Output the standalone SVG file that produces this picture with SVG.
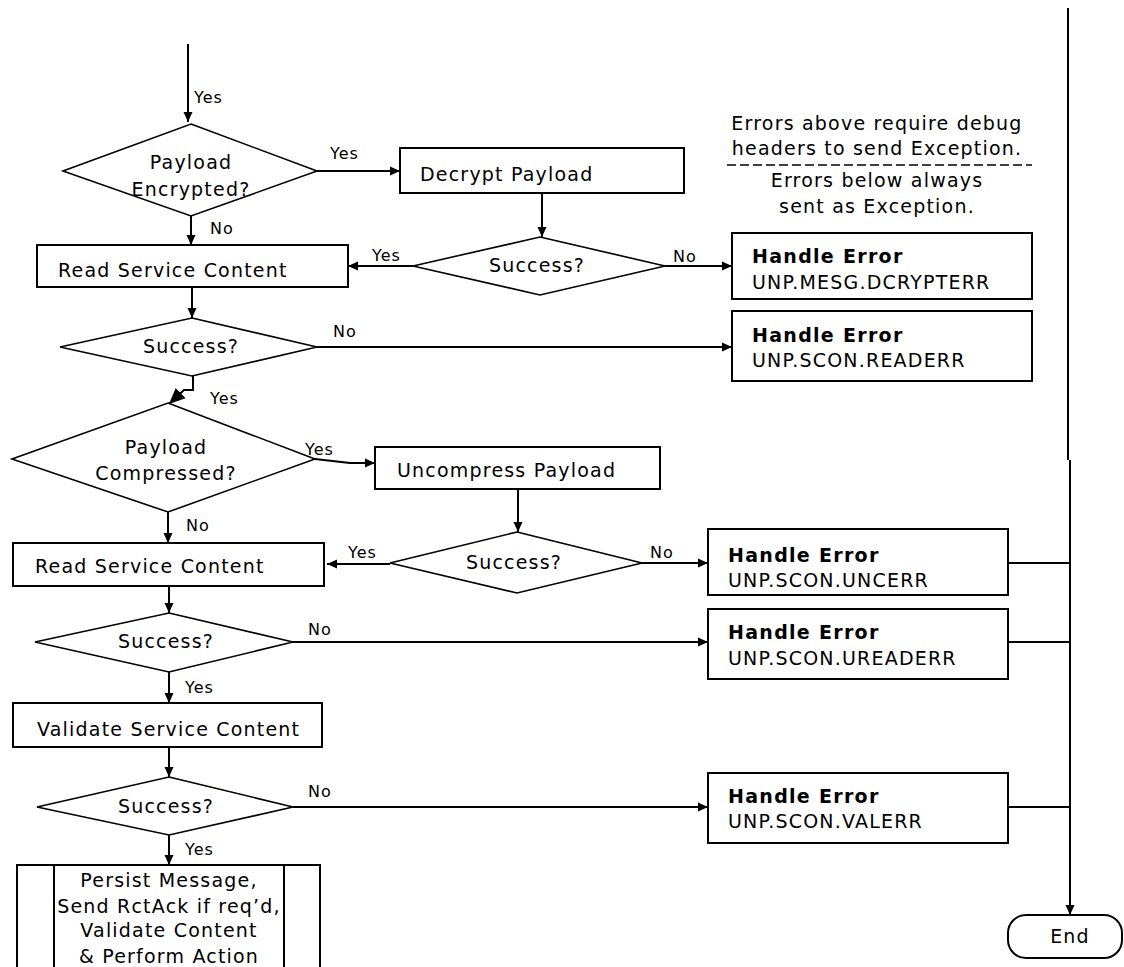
<svg xmlns="http://www.w3.org/2000/svg" width="1124" height="967" viewBox="0 0 1124 967">
<style>
.box{fill:#fff;stroke:#000;stroke-width:2}
.dia{fill:#fff;stroke:#000;stroke-width:1.6}
.t{font-family:"DejaVu Sans",Verdana,sans-serif;font-size:19px;letter-spacing:1.2px;fill:#000}
.c{text-anchor:middle}
.b{font-weight:bold;letter-spacing:1.3px}
.lbl{font-family:"DejaVu Sans",Verdana,sans-serif;font-size:16px;letter-spacing:1px;fill:#000}
.ln{fill:none;stroke:#000;stroke-width:2}
</style>
<defs>
<marker id="ah" viewBox="0 0 10 10" refX="10" refY="5" markerWidth="10" markerHeight="10" markerUnits="userSpaceOnUse" orient="auto">
<path d="M0,0.5 L10,5 L0,9.5 z" fill="#000"/>
</marker>
<marker id="ahb" viewBox="0 0 10 10" refX="10" refY="5" markerWidth="16" markerHeight="16" markerUnits="userSpaceOnUse" orient="auto">
<path d="M0,0.5 L10,5 L0,9.5 z" fill="#000"/>
</marker>
</defs>

<g id="connectors">
<path class="ln" d="M188,44 V122" marker-end="url(#ah)"/>
<path class="ln" d="M317,171 H400" marker-end="url(#ah)"/>
<path class="ln" d="M542,193 V237" marker-end="url(#ah)"/>
<path class="ln" d="M413,266 H348" marker-end="url(#ah)"/>
<path class="ln" d="M665,266 H732" marker-end="url(#ah)"/>
<path class="ln" d="M191,216 V245" marker-end="url(#ah)"/>
<path class="ln" d="M192,287 V318" marker-end="url(#ah)"/>
<path class="ln" d="M317,347 H732" marker-end="url(#ah)"/>
<path class="ln" d="M193,376 V390 H184 L169,404" marker-end="url(#ahb)"/>
<path class="ln" d="M315,459 L350,463 H375" marker-end="url(#ah)"/>
<path class="ln" d="M518,489 V532" marker-end="url(#ah)"/>
<path class="ln" d="M390,564 H327" marker-end="url(#ah)"/>
<path class="ln" d="M642,563 H708" marker-end="url(#ah)"/>
<path class="ln" d="M168,512 V543" marker-end="url(#ah)"/>
<path class="ln" d="M169,586 V613" marker-end="url(#ah)"/>
<path class="ln" d="M293,642 H708" marker-end="url(#ah)"/>
<path class="ln" d="M169,672 V703" marker-end="url(#ah)"/>
<path class="ln" d="M169,747 V777" marker-end="url(#ah)"/>
<path class="ln" d="M293,807 H708" marker-end="url(#ah)"/>
<path class="ln" d="M169,835 V865" marker-end="url(#ah)"/>
<path class="ln" d="M1008,563 H1070"/>
<path class="ln" d="M1008,642 H1070"/>
<path class="ln" d="M1008,807 H1070"/>
<path class="ln" d="M1068,8 V460"/>
<path class="ln" d="M1070,460 V915" marker-end="url(#ah)"/>
<line x1="727" y1="165" x2="1032" y2="165" stroke="#000" stroke-width="1.5" stroke-dasharray="9,4"/>
<text class="lbl" x="194" y="103">Yes</text>
<text class="lbl" x="330" y="159">Yes</text>
<text class="lbl" x="210" y="234">No</text>
<text class="lbl" x="372" y="261">Yes</text>
<text class="lbl" x="673" y="262">No</text>
<text class="lbl" x="333" y="337">No</text>
<text class="lbl" x="210" y="404">Yes</text>
<text class="lbl" x="305" y="455">Yes</text>
<text class="lbl" x="186" y="531">No</text>
<text class="lbl" x="348" y="558">Yes</text>
<text class="lbl" x="650" y="558">No</text>
<text class="lbl" x="308" y="635">No</text>
<text class="lbl" x="185" y="693">Yes</text>
<text class="lbl" x="308" y="797">No</text>
<text class="lbl" x="185" y="855">Yes</text>
</g>

<g id="note">
<text class="t c" x="877" y="130">Errors above require debug</text>
<text class="t c" x="877" y="155">headers to send Exception.</text>
<text class="t c" x="877" y="187">Errors below always</text>
<text class="t c" x="877" y="213">sent as Exception.</text>
</g>

<g id="payload-encrypted">
<polygon class="dia" points="191,124 317,171 191,216 63,171"/>
<text class="t c" x="191" y="169">Payload</text>
<text class="t c" x="191" y="196">Encrypted?</text>
</g>
<g id="decrypt-payload">
<rect class="box" x="400" y="148" width="284" height="45"/>
<text class="t" x="420" y="181">Decrypt Payload</text>
</g>
<g id="decrypt-success">
<polygon class="dia" points="540,237 665,266 540,295 413,266"/>
<text class="t c" x="537" y="272">Success?</text>
</g>
<g id="read-service-content-1">
<rect class="box" x="37" y="245" width="311" height="42"/>
<text class="t" x="58" y="277">Read Service Content</text>
</g>
<g id="read-success-1">
<polygon class="dia" points="192,318 317,347 192,376 60,347"/>
<text class="t c" x="191" y="353">Success?</text>
</g>
<g id="payload-compressed">
<polygon class="dia" points="168,403 315,459 168,512 12,459"/>
<text class="t c" x="166" y="454">Payload</text>
<text class="t c" x="166" y="480">Compressed?</text>
</g>
<g id="uncompress-payload">
<rect class="box" x="375" y="447" width="285" height="42"/>
<text class="t" x="397" y="477">Uncompress Payload</text>
</g>
<g id="uncompress-success">
<polygon class="dia" points="517,532 642,563 517,593 390,563"/>
<text class="t c" x="514" y="569">Success?</text>
</g>
<g id="read-service-content-2">
<rect class="box" x="13" y="543" width="311" height="43"/>
<text class="t" x="35" y="573">Read Service Content</text>
</g>
<g id="read-success-2">
<polygon class="dia" points="169,613 293,642 169,672 35,642"/>
<text class="t c" x="166" y="648">Success?</text>
</g>
<g id="validate-service-content">
<rect class="box" x="13" y="703" width="309" height="44"/>
<text class="t" x="37" y="736">Validate Service Content</text>
</g>
<g id="validate-success">
<polygon class="dia" points="169,777 293,807 169,835 37,807"/>
<text class="t c" x="166" y="813">Success?</text>
</g>
<g id="persist-message">
<rect class="box" x="17" y="865" width="303" height="110"/>
<line x1="54" y1="865" x2="54" y2="967" stroke="#000" stroke-width="2"/>
<line x1="284" y1="865" x2="284" y2="967" stroke="#000" stroke-width="2"/>
<text class="t c" x="169" y="887">Persist Message,</text>
<text class="t c" x="169" y="913">Send RctAck if req’d,</text>
<text class="t c" x="169" y="937">Validate Content</text>
<text class="t c" x="169" y="963">&amp; Perform Action</text>
</g>
<g id="error-dcrypterr">
<rect class="box" x="732" y="233" width="300" height="66"/>
<text class="t b" x="752" y="263">Handle Error</text>
<text class="t" x="752" y="289">UNP.MESG.DCRYPTERR</text>
</g>
<g id="error-readerr">
<rect class="box" x="732" y="311" width="300" height="70"/>
<text class="t b" x="752" y="342">Handle Error</text>
<text class="t" x="752" y="367">UNP.SCON.READERR</text>
</g>
<g id="error-uncerr">
<rect class="box" x="708" y="529" width="300" height="66"/>
<text class="t b" x="728" y="562">Handle Error</text>
<text class="t" x="728" y="587">UNP.SCON.UNCERR</text>
</g>
<g id="error-ureaderr">
<rect class="box" x="708" y="609" width="300" height="70"/>
<text class="t b" x="728" y="639">Handle Error</text>
<text class="t" x="728" y="665">UNP.SCON.UREADERR</text>
</g>
<g id="error-valerr">
<rect class="box" x="708" y="773" width="300" height="70"/>
<text class="t b" x="728" y="803">Handle Error</text>
<text class="t" x="728" y="828">UNP.SCON.VALERR</text>
</g>
<g id="end">
<rect class="box" x="1008" y="915" width="114" height="43" rx="18" ry="18"/>
<text class="t c" x="1070" y="943">End</text>
</g>
</svg>
